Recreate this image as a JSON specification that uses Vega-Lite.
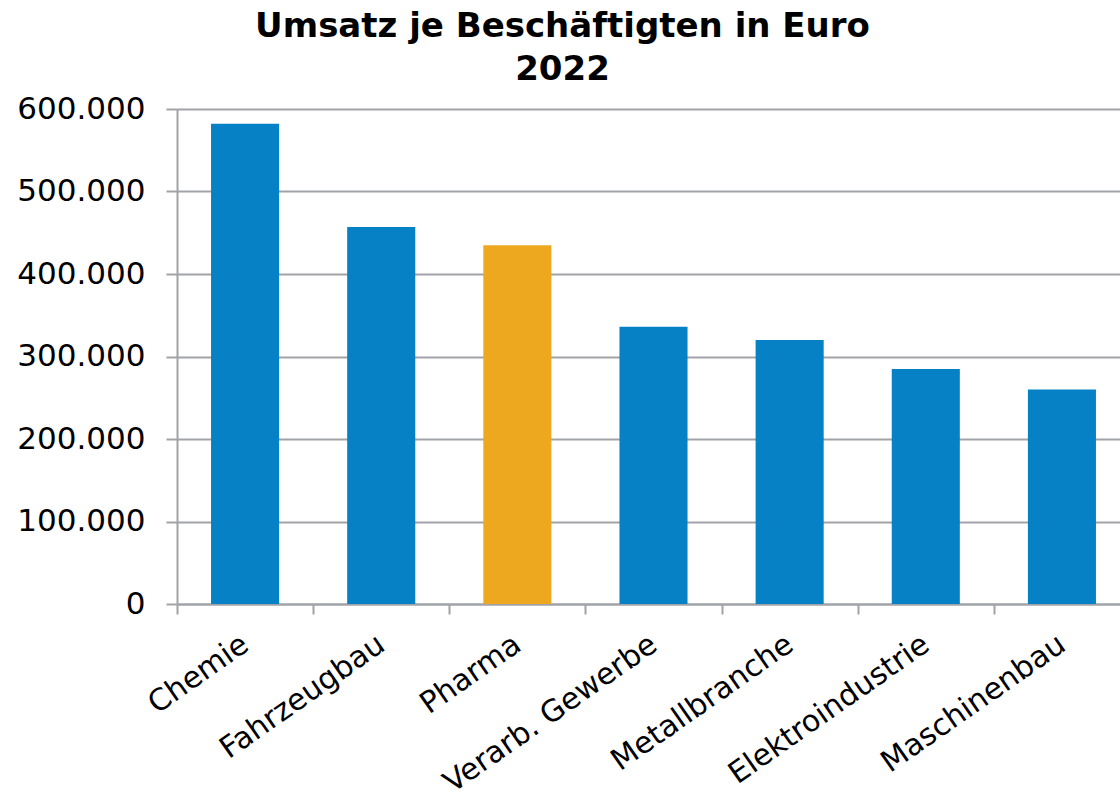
{
  "$schema": "https://vega.github.io/schema/vega-lite/v6.json",
  "autosize": "none",
  "width": 953,
  "height": 495,
  "padding": {"left": 177, "top": 109, "right": 0, "bottom": 199},
  "background": "white",
  "title": {
    "text": ["Umsatz je Beschäftigten in Euro", "2022"],
    "font": "DejaVu Sans",
    "fontSize": 34,
    "fontWeight": "bold",
    "color": "#000000",
    "lineHeight": 43,
    "anchor": "middle",
    "dx": -91,
    "offset": 6
  },
  "data": {
    "values": [
      {"Branche": "Chemie", "Umsatz": 582000},
      {"Branche": "Fahrzeugbau", "Umsatz": 457000},
      {"Branche": "Pharma", "Umsatz": 435000},
      {"Branche": "Verarb. Gewerbe", "Umsatz": 336000},
      {"Branche": "Metallbranche", "Umsatz": 320000},
      {"Branche": "Elektroindustrie", "Umsatz": 285000},
      {"Branche": "Maschinenbau", "Umsatz": 260000}
    ]
  },
  "mark": {"type": "bar"},
  "encoding": {
    "x": {
      "field": "Branche",
      "type": "nominal",
      "sort": null,
      "scale": {"paddingInner": 0.5, "paddingOuter": 0.25},
      "axis": {
        "title": null,
        "bandPosition": 0,
        "tickOffset": -34,
        "labelOffset": 34,
        "labelAngle": -35,
        "labelAlign": "right",
        "labelBaseline": "middle",
        "labelFont": "DejaVu Sans",
        "labelFontSize": 30,
        "labelColor": "#000000",
        "labelPadding": 27,
        "labelLimit": 0,
        "labelOverlap": false,
        "tickSize": 10,
        "tickWidth": 2,
        "tickColor": "#A0A3A8",
        "domainColor": "#A0A3A8",
        "domainWidth": 2,
        "grid": false
      }
    },
    "y": {
      "field": "Umsatz",
      "type": "quantitative",
      "scale": {"domain": [0, 600000], "nice": false},
      "axis": {
        "title": null,
        "values": [0, 100000, 200000, 300000, 400000, 500000, 600000],
        "format": ",d",
        "labelFont": "DejaVu Sans",
        "labelFontSize": 31,
        "labelColor": "#000000",
        "labelPadding": 21,
        "tickSize": 11,
        "tickWidth": 2,
        "tickColor": "#A0A3A8",
        "domainColor": "#A0A3A8",
        "domainWidth": 2,
        "grid": true,
        "gridColor": "#A0A3A8",
        "gridWidth": 2
      }
    },
    "color": {
      "condition": {"test": "datum.Branche === 'Pharma'", "value": "#EEA820"},
      "value": "#0781C5"
    }
  },
  "config": {
    "locale": {
      "number": {"decimal": ",", "thousands": ".", "grouping": [3], "currency": ["", " €"]}
    },
    "view": {"stroke": null}
  }
}
